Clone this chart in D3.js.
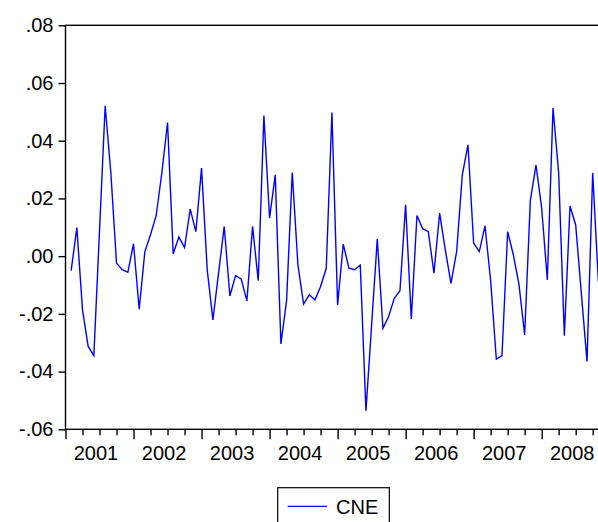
<!DOCTYPE html>
<html><head><meta charset="utf-8">
<script src="https://cdn.jsdelivr.net/npm/d3@7"></script>
<style>body{margin:0;background:#fff}svg{display:block}text{font-family:"Liberation Sans",Arial,sans-serif;fill:#000}</style>
</head><body><svg id="c" width="598" height="522"></svg>
<script>
const seriesName = "CNE";
const startYear = 2001, startMonth = 2; // first observation 2001M02
const values = [
 -0.0050, 0.0099,-0.0186,-0.0313,-0.0345, 0.0088, 0.0521, 0.0288,-0.0024,-0.0047,-0.0056,
  0.0043,-0.0184, 0.0016, 0.0074, 0.0141, 0.0289, 0.0463, 0.0008, 0.0066, 0.0030, 0.0163, 0.0085,
  0.0305,-0.0047,-0.0221,-0.0059, 0.0103,-0.0138,-0.0067,-0.0080,-0.0155, 0.0103,-0.0085, 0.0487,
  0.0132, 0.0282,-0.0304,-0.0154, 0.0290,-0.0030,-0.0166,-0.0134,-0.0151,-0.0105,-0.0042, 0.0498,
 -0.0169, 0.0042,-0.0042,-0.0047,-0.0031,-0.0536,-0.0239, 0.0059,-0.0250,-0.0209,-0.0146,-0.0120,
  0.0178,-0.0218, 0.0141, 0.0095, 0.0085,-0.0059, 0.0149, 0.0022,-0.0094, 0.0016, 0.0282, 0.0386,
  0.0045, 0.0016, 0.0105,-0.0085,-0.0357,-0.0345, 0.0085, 0.0005,-0.0099,-0.0273, 0.0193, 0.0316,
  0.0166,-0.0082, 0.0513, 0.0288,-0.0276, 0.0174, 0.0108,-0.0129,-0.0365, 0.0288,-0.0088
];
const yearLabels = ["2001","2002","2003","2004","2005","2006","2007","2008"];
const yTicks = [-0.06,-0.04,-0.02,0.00,0.02,0.04,0.06,0.08];

const data = values.map((v,i)=>({m:(startMonth-1)+i, v}));

const svg = d3.select("#c");
const L = 65.5, T = 25.3, B = 429.3, R = 609.7;
const x = d3.scaleLinear().domain([0, yearLabels.length*12]).range([L, R]);
const y = d3.scaleLinear().domain([-0.06, 0.08]).range([B, T]);

// frame
svg.append("rect").attr("x",L).attr("y",T).attr("width",R-L).attr("height",B-T)
  .attr("fill","none").attr("stroke","#000").attr("stroke-width",1.4);

// line
svg.append("path").datum(data)
  .attr("fill","none").attr("stroke","#0000ff").attr("stroke-width",1.4)
  .attr("stroke-linejoin","miter")
  .attr("d", d3.line().x(d=>x(d.m)).y(d=>y(d.v)));

// y axis
const fmt = v => (v < -1e-9 ? "-" : "") + Math.abs(v).toFixed(2).slice(1);
const ya = svg.append("g").attr("transform",`translate(${L},0)`)
  .call(d3.axisLeft(y).tickValues(yTicks).tickSize(7).tickPadding(5).tickFormat(fmt));
ya.select(".domain").remove();
ya.selectAll("line").attr("stroke","#000").attr("stroke-width",1.4);
ya.selectAll("text").attr("font-size",20).attr("font-family","Liberation Sans, Arial, sans-serif").attr("fill","#000");

// x axis ticks: quarters (minor) and years (major)
const quarterTicks = d3.range(0, yearLabels.length*12+1, 3);
const xa = svg.append("g").attr("transform",`translate(0,${B})`)
  .call(d3.axisBottom(x).tickValues(quarterTicks).tickSize(6).tickFormat(""));
xa.select(".domain").remove();
xa.selectAll(".tick line").attr("stroke","#000").attr("stroke-width",1.4)
  .attr("y2", d => d % 12 === 0 ? 10 : 6);

// year labels
svg.append("g").selectAll("text").data(yearLabels).join("text")
  .attr("x",(d,i)=>x(i*12+6)-3.5).attr("y",460)
  .attr("text-anchor","middle").attr("font-size",20).text(d=>d);

// legend
const lg = svg.append("g");
lg.append("rect").attr("x",277.7).attr("y",487.7).attr("width",111.6).attr("height",45)
  .attr("fill","#fff").attr("stroke","#000").attr("stroke-width",1.2);
lg.append("line").attr("x1",287.7).attr("x2",327).attr("y1",506.3).attr("y2",506.3)
  .attr("stroke","#0000ff").attr("stroke-width",1.2);
lg.append("text").attr("x",336).attr("y",514).attr("font-size",20).text(seriesName);
</script></body></html>
